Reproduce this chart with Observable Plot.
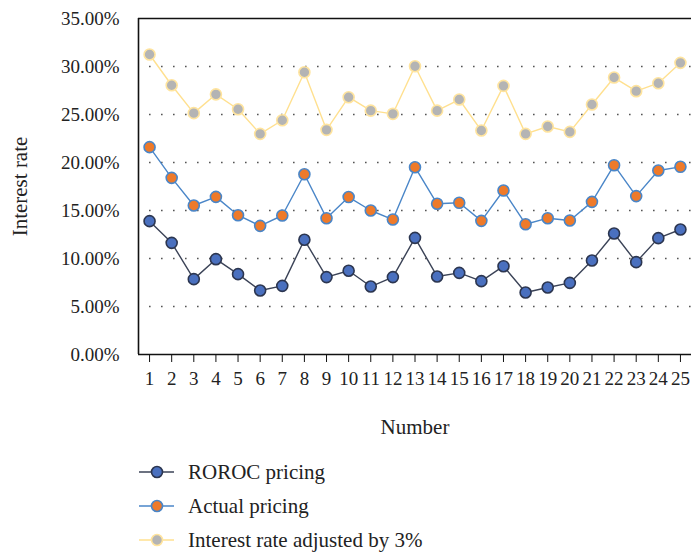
<!DOCTYPE html>
<html>
<head>
<meta charset="utf-8">
<script src="https://cdn.jsdelivr.net/npm/d3@7"></script>
<script src="https://cdn.jsdelivr.net/npm/@observablehq/plot@0.6"></script>
<style>
  html, body { margin: 0; padding: 0; background: #fff; }
  body { width: 691px; font-family: 'Liberation Serif', serif; color: #222; }
  #legend { margin-top: 10px; padding-left: 139px; }
  .row { display: flex; align-items: center; height: 34px; }
  .row svg { flex: none; }
  .row span { margin-left: 13px; font-size: 21px; font-family: 'Liberation Serif', serif; }
</style>
</head>
<body>
<div id="chart"></div>
<div id="legend"></div>
<script>
// Loan numbers 1–25
const numbers = d3.range(1, 26);

// Interest rates (%) per loan
const roroc = [13.89, 11.63, 7.85, 9.93, 8.37, 6.67, 7.15, 11.95, 8.06, 8.72,
               7.08, 8.06, 12.15, 8.13, 8.50, 7.64, 9.20, 6.46, 6.98, 7.46,
               9.79, 12.60, 9.62, 12.12, 13.02];
const actual = [21.60, 18.40, 15.52, 16.42, 14.51, 13.40, 14.48, 18.78, 14.20, 16.40,
                15.00, 14.06, 19.51, 15.70, 15.80, 13.92, 17.08, 13.57, 14.20, 13.96,
                15.90, 19.72, 16.50, 19.17, 19.55];
const adjusted = [31.25, 28.05, 25.14, 27.10, 25.55, 22.98, 24.40, 29.40, 23.40, 26.80,
                  25.40, 25.07, 30.03, 25.40, 26.56, 23.33, 27.98, 22.98, 23.75, 23.19,
                  26.04, 28.85, 27.43, 28.26, 30.38];

const yTicks = [0, 5, 10, 15, 20, 25, 30, 35];
const gridTicks = [5, 10, 15, 20, 25, 30];

const seriesNames = ["ROROC pricing", "Actual pricing", "Interest rate adjusted by 3%"];
const lineColors = ["#3b4357", "#4a86c8", "#ffe08f"];
const dotFills = ["#4a70bf", "#ee7a2a", "#b4b4b4"];
const dotStrokes = ["#2c3650", "#4a86c8", "#ffe49e"];

const seriesValues = [roroc, actual, adjusted];
const rows = seriesValues.map((vals, s) => numbers.map((n, i) => ({n, v: vals[i], s})));

const serif = "'Liberation Serif', serif";

const marks = [
  Plot.ruleY(gridTicks, {stroke: "#555", strokeDasharray: "1.6,10.4", strokeWidth: 1.3, insetLeft: 11}),
  Plot.ruleY([35], {stroke: "#111", strokeWidth: 1.6}),
  Plot.ruleY([0], {stroke: "#111", strokeWidth: 1.6}),
  Plot.ruleX([0.5], {stroke: "#111", strokeWidth: 1.6}),
  Plot.axisY({ticks: yTicks, tickSize: 0, tickPadding: 19, tickFormat: d => d.toFixed(2) + "%",
              fontSize: 19, fontFamily: serif, label: null}),
  Plot.axisY({ticks: [], label: "Interest rate", labelAnchor: "center", labelArrow: "none",
              labelOffset: 126, fontSize: 21, fontFamily: serif}),
  Plot.axisX({ticks: numbers, tickSize: 8, tickPadding: 9, tickFormat: d => String(d),
              fontSize: 19, fontFamily: serif, stroke: "#111", label: null}),
  Plot.axisX({ticks: [], label: "Number", labelAnchor: "center", labelArrow: "none",
              labelOffset: 79, fontSize: 21, fontFamily: serif})
];
rows.forEach((data, s) => {
  marks.push(Plot.line(data, {x: "n", y: "v", stroke: lineColors[s], strokeWidth: 1.4}));
});
rows.forEach((data, s) => {
  marks.push(Plot.dot(data, {x: "n", y: "v", r: 5.5, fill: dotFills[s], stroke: dotStrokes[s], strokeWidth: 1.6}));
});

const chart = Plot.plot({
  width: 691,
  height: 445,
  marginTop: 18,
  marginBottom: 91,
  marginLeft: 138,
  marginRight: 0,
  style: {fontFamily: serif, fontSize: "19px", color: "#222", background: "#fff"},
  x: {domain: [0.5, 25.5]},
  y: {domain: [0, 35]},
  marks
});
document.getElementById("chart").append(chart);

// Legend rows below the chart
const legend = d3.select("#legend");
seriesNames.forEach((name, s) => {
  const row = legend.append("div").attr("class", "row");
  const svg = row.append("svg").attr("width", 36).attr("height", 14);
  svg.append("line").attr("x1", 0).attr("x2", 35).attr("y1", 7).attr("y2", 7)
    .attr("stroke", lineColors[s]).attr("stroke-width", 1.6);
  svg.append("circle").attr("cx", 18).attr("cy", 7).attr("r", 5.5)
    .attr("fill", dotFills[s]).attr("stroke", dotStrokes[s]).attr("stroke-width", 1.6);
  row.append("span").text(name);
});
</script>
</body>
</html>
